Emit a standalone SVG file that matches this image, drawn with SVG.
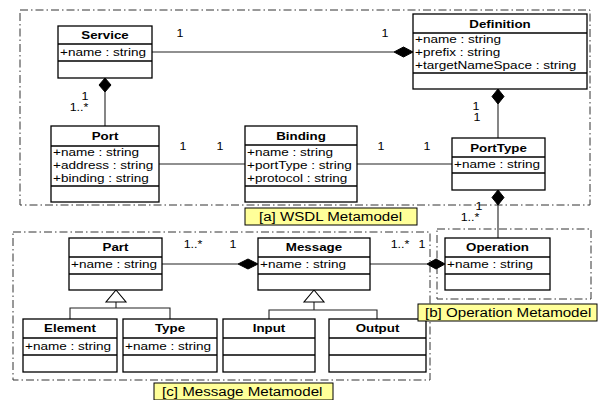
<svg xmlns="http://www.w3.org/2000/svg" width="598" height="400" viewBox="0 0 598 400">
  <style>
    .frame { fill: none; stroke: #333; stroke-width: 1; stroke-dasharray: 8 3 1.5 3; }
    .box { fill: #fff; stroke: #000; stroke-width: 1.3; }
    .div { stroke: #000; stroke-width: 1.3; }
    .edge { fill: none; stroke: #222; stroke-width: 1.1; }
    .dia { fill: #000; stroke: #000; stroke-width: 1; }
    .tri { fill: #fff; stroke: #000; stroke-width: 1.1; }
    .lblbox { fill: #ffff99; stroke: #000; stroke-width: 1; }
    text { font-family: "Liberation Sans", Arial, sans-serif; fill: #000; }
    .t { font-size: 11.3px; font-weight: bold; text-anchor: middle; }
    .a { font-size: 11px; }
    .m { font-size: 10px; text-anchor: middle; }
    .l { font-size: 12.5px; }
  </style>

  <!-- package frames -->
  <g id="frames">
    <rect class="frame" x="20" y="10" width="570" height="195"/>
    <rect class="frame" x="13" y="232" width="417" height="148"/>
    <rect class="frame" x="437" y="229" width="154" height="70"/>
  </g>

  <!-- connectors -->
  <g id="connectors">
    <line class="edge" x1="152" y1="52" x2="394" y2="52"/>
    <polygon class="dia" points="413,52 403.5,47 394,52 403.5,57"/>
    <line class="edge" x1="105" y1="92" x2="105" y2="126"/>
    <polygon class="dia" points="105,78 111,85 105,92 99,85"/>
    <line class="edge" x1="159" y1="164" x2="245" y2="164"/>
    <line class="edge" x1="357" y1="164" x2="452" y2="164"/>
    <line class="edge" x1="498" y1="104" x2="498" y2="138"/>
    <polygon class="dia" points="498,89 504,96.5 498,104 492,96.5"/>
    <line class="edge" x1="498" y1="205" x2="498" y2="238"/>
    <polygon class="dia" points="498,190 504,197.5 498,205 492,197.5"/>
    <line class="edge" x1="162" y1="264" x2="238" y2="264"/>
    <polygon class="dia" points="258,264 248,259 238,264 248,269"/>
    <line class="edge" x1="370" y1="264" x2="427" y2="264"/>
    <polygon class="dia" points="445,264 436,259 427,264 436,269"/>
    <!-- generalization: Element, Type -> Part -->
    <polyline class="edge" points="70,319 70,308 170,308 170,319"/>
    <line class="edge" x1="116" y1="302" x2="116" y2="308"/>
    <polygon class="tri" points="116,290 126,302 106,302"/>
    <!-- generalization: Input, Output -> Message -->
    <polyline class="edge" points="269,319 269,310 377,310 377,319"/>
    <line class="edge" x1="314" y1="302" x2="314" y2="310"/>
    <polygon class="tri" points="314,290 324,302 304,302"/>

    <!-- multiplicities -->
    <text class="m" transform="translate(180 37) scale(1.25 1)">1</text>
    <text class="m" transform="translate(385 37) scale(1.25 1)">1</text>
    <text class="m" transform="translate(85 100) scale(1.25 1)">1</text>
    <text class="m" transform="translate(79 111) scale(1.25 1)">1..*</text>
    <text class="m" transform="translate(183 150) scale(1.25 1)">1</text>
    <text class="m" transform="translate(220 150) scale(1.25 1)">1</text>
    <text class="m" transform="translate(381 150) scale(1.25 1)">1</text>
    <text class="m" transform="translate(427 150) scale(1.25 1)">1</text>
    <text class="m" transform="translate(476 110) scale(1.25 1)">1</text>
    <text class="m" transform="translate(477 121) scale(1.25 1)">1</text>
    <text class="m" transform="translate(479 210) scale(1.25 1)">1</text>
    <text class="m" transform="translate(470 221) scale(1.25 1)">1..*</text>
    <text class="m" transform="translate(193 248) scale(1.25 1)">1..*</text>
    <text class="m" transform="translate(233 248) scale(1.25 1)">1</text>
    <text class="m" transform="translate(400 248) scale(1.25 1)">1..*</text>
    <text class="m" transform="translate(422 248) scale(1.25 1)">1</text>
  </g>

  <!-- classes -->
  <g id="Service">
    <rect class="box" x="58" y="26" width="94" height="52"/>
    <line class="div" x1="58" y1="44" x2="152" y2="44"/>
    <line class="div" x1="58" y1="61" x2="152" y2="61"/>
    <text class="t" transform="translate(105 39) scale(1.18 1)">Service</text>
    <text class="a" transform="translate(60 56) scale(1.23 1)">+name : string</text>
  </g>

  <g id="Definition">
    <rect class="box" x="413" y="14" width="174" height="75"/>
    <line class="div" x1="413" y1="33" x2="587" y2="33"/>
    <line class="div" x1="413" y1="73" x2="587" y2="73"/>
    <text class="t" transform="translate(500 28) scale(1.18 1)">Definition</text>
    <text class="a" transform="translate(415 43) scale(1.23 1)">+name : string</text>
    <text class="a" transform="translate(415 56) scale(1.23 1)">+prefix : string</text>
    <text class="a" transform="translate(415 69) scale(1.23 1)">+targetNameSpace : string</text>
  </g>

  <g id="Port">
    <rect class="box" x="51" y="126" width="108" height="76"/>
    <line class="div" x1="51" y1="146" x2="159" y2="146"/>
    <line class="div" x1="51" y1="186" x2="159" y2="186"/>
    <text class="t" transform="translate(105 140) scale(1.18 1)">Port</text>
    <text class="a" transform="translate(53 156) scale(1.23 1)">+name : string</text>
    <text class="a" transform="translate(53 169) scale(1.23 1)">+address : string</text>
    <text class="a" transform="translate(53 182) scale(1.23 1)">+binding : string</text>
  </g>

  <g id="Binding">
    <rect class="box" x="245" y="126" width="112" height="76"/>
    <line class="div" x1="245" y1="145" x2="357" y2="145"/>
    <line class="div" x1="245" y1="186" x2="357" y2="186"/>
    <text class="t" transform="translate(301 140) scale(1.18 1)">Binding</text>
    <text class="a" transform="translate(247 156) scale(1.23 1)">+name : string</text>
    <text class="a" transform="translate(247 169) scale(1.23 1)">+portType : string</text>
    <text class="a" transform="translate(247 182) scale(1.23 1)">+protocol : string</text>
  </g>

  <g id="PortType">
    <rect class="box" x="452" y="138" width="93" height="52"/>
    <line class="div" x1="452" y1="157" x2="545" y2="157"/>
    <line class="div" x1="452" y1="173" x2="545" y2="173"/>
    <text class="t" transform="translate(498.5 152) scale(1.18 1)">PortType</text>
    <text class="a" transform="translate(454 168) scale(1.23 1)">+name : string</text>
  </g>

  <g id="Part">
    <rect class="box" x="69" y="238" width="93" height="52"/>
    <line class="div" x1="69" y1="257" x2="162" y2="257"/>
    <line class="div" x1="69" y1="274" x2="162" y2="274"/>
    <text class="t" transform="translate(115.5 251) scale(1.18 1)">Part</text>
    <text class="a" transform="translate(71 268) scale(1.23 1)">+name : string</text>
  </g>

  <g id="Message">
    <rect class="box" x="258" y="238" width="112" height="52"/>
    <line class="div" x1="258" y1="257" x2="370" y2="257"/>
    <line class="div" x1="258" y1="274" x2="370" y2="274"/>
    <text class="t" transform="translate(314 251) scale(1.18 1)">Message</text>
    <text class="a" transform="translate(260 268) scale(1.23 1)">+name : string</text>
  </g>

  <g id="Operation">
    <rect class="box" x="445" y="238" width="105" height="52"/>
    <line class="div" x1="445" y1="257" x2="550" y2="257"/>
    <line class="div" x1="445" y1="274" x2="550" y2="274"/>
    <text class="t" transform="translate(497.5 251) scale(1.18 1)">Operation</text>
    <text class="a" transform="translate(447 268) scale(1.23 1)">+name : string</text>
  </g>

  <g id="Element">
    <rect class="box" x="23" y="319" width="94" height="53"/>
    <line class="div" x1="23" y1="338" x2="117" y2="338"/>
    <line class="div" x1="23" y1="355" x2="117" y2="355"/>
    <text class="t" transform="translate(70 332) scale(1.18 1)">Element</text>
    <text class="a" transform="translate(25 350) scale(1.23 1)">+name : string</text>
  </g>

  <g id="Type">
    <rect class="box" x="123" y="319" width="94" height="53"/>
    <line class="div" x1="123" y1="338" x2="217" y2="338"/>
    <line class="div" x1="123" y1="355" x2="217" y2="355"/>
    <text class="t" transform="translate(170 332) scale(1.18 1)">Type</text>
    <text class="a" transform="translate(125 350) scale(1.23 1)">+name : string</text>
  </g>

  <g id="Input">
    <rect class="box" x="223" y="319" width="92" height="53"/>
    <line class="div" x1="223" y1="338" x2="315" y2="338"/>
    <line class="div" x1="223" y1="355" x2="315" y2="355"/>
    <text class="t" transform="translate(269 332) scale(1.18 1)">Input</text>
  </g>

  <g id="Output">
    <rect class="box" x="329" y="319" width="97" height="53"/>
    <line class="div" x1="329" y1="338" x2="426" y2="338"/>
    <line class="div" x1="329" y1="355" x2="426" y2="355"/>
    <text class="t" transform="translate(377.5 332) scale(1.18 1)">Output</text>
  </g>

  <!-- package labels -->
  <g id="label-wsdl">
    <rect class="lblbox" x="245" y="208" width="172" height="17"/>
    <text class="l" transform="translate(259 221) scale(1.21 1)">[a] WSDL Metamodel</text>
  </g>
  <g id="label-operation">
    <rect class="lblbox" x="418" y="304" width="179" height="17"/>
    <text class="l" transform="translate(425 317) scale(1.21 1)">[b] Operation Metamodel</text>
  </g>
  <g id="label-message">
    <rect class="lblbox" x="154" y="383" width="179" height="17"/>
    <text class="l" transform="translate(162 396) scale(1.21 1)">[c] Message Metamodel</text>
  </g>
</svg>
